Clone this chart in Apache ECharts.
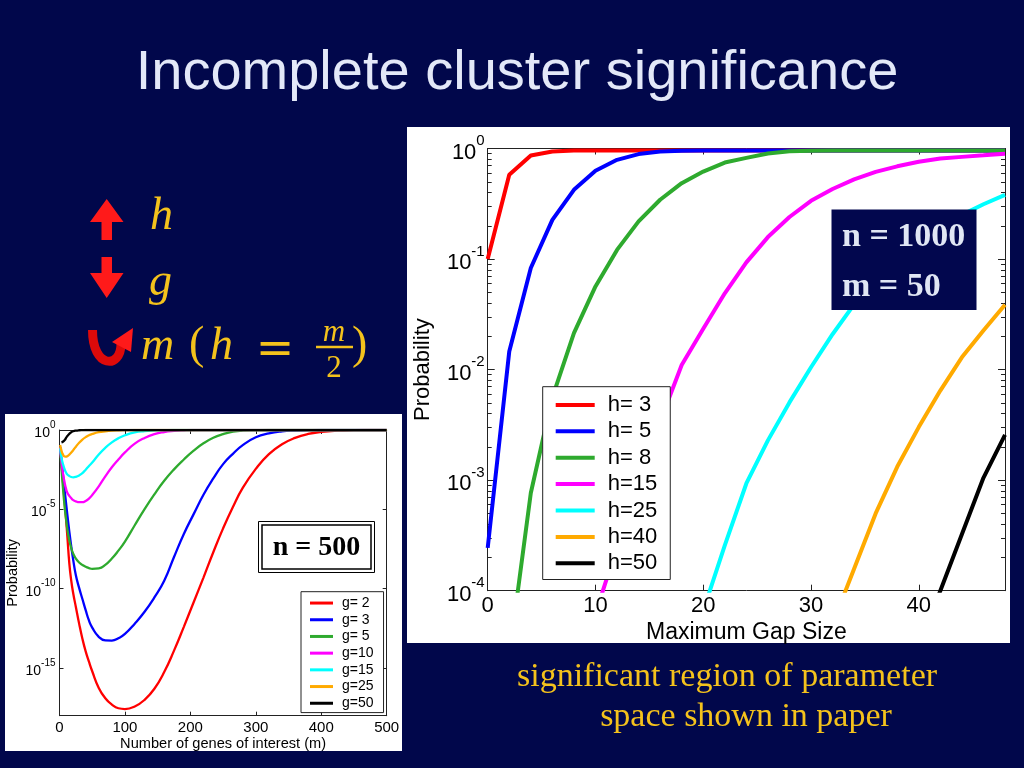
<!DOCTYPE html>
<html><head><meta charset="utf-8">
<script src="https://cdn.jsdelivr.net/npm/echarts@6/dist/echarts.min.js"></script>
<style>html,body{margin:0;padding:0;background:#01074b;}#c{width:1024px;height:768px;}</style>
</head><body><div id="c"></div>
<script>
// ---------- Small chart (n = 500): probability vs number of genes of interest m ----------
// values are log10(probability)
const genesM = [1,3,5,8,10,12,15,18,21,25,30,35,40,45,50,60,70,80,90,100,115,130,145,160,175,190,205,220,235,250,265,280,300,320,340,360,380,400,425,450,475,500];
const g2Log  = [-1.1,-2.1,-3.1,-4.6,-5.6,-6.7,-8.4,-9.5,-10.3,-11.15,-12.2,-13.15,-13.95,-14.6,-15.2,-16.25,-16.9,-17.3,-17.53,-17.58,-17.42,-17.0,-16.3,-15.25,-13.9,-12.4,-10.85,-9.3,-7.7,-6.2,-4.85,-3.65,-2.45,-1.52,-0.9,-0.5,-0.25,-0.12,-0.04,-0.01,0,0];
const g3Log  = [-1.1,-1.9,-2.7,-3.85,-4.6,-5.35,-6.4,-7.35,-8.2,-9.15,-9.95,-10.65,-11.35,-12.0,-12.45,-13.03,-13.26,-13.27,-13.12,-12.85,-12.2,-11.45,-10.55,-9.5,-8.0,-6.55,-5.3,-4.08,-3.05,-2.15,-1.5,-0.95,-0.46,-0.21,-0.08,-0.03,-0.01,0,0,0,0,0];
const g5Log  = [-1.1,-2.4,-3.5,-4.9,-5.6,-6.25,-6.95,-7.45,-7.8,-8.1,-8.35,-8.5,-8.62,-8.7,-8.75,-8.72,-8.5,-8.1,-7.6,-7.03,-6.0,-4.98,-4.05,-3.2,-2.48,-1.86,-1.3,-0.84,-0.49,-0.26,-0.1,-0.03,-0.01,0,0,0,0,0,0,0,0,0];
const g10Log = [-1.1,-2.0,-2.65,-3.35,-3.7,-3.95,-4.15,-4.3,-4.42,-4.5,-4.55,-4.55,-4.47,-4.32,-4.1,-3.55,-2.92,-2.35,-1.86,-1.41,-0.86,-0.5,-0.26,-0.13,-0.06,-0.02,0,0,0,0,0,0,0,0,0,0,0,0,0,0,0,0];
const g15Log = [-1.15,-1.75,-2.1,-2.5,-2.68,-2.8,-2.9,-2.96,-2.98,-2.95,-2.86,-2.72,-2.5,-2.27,-2.05,-1.54,-1.12,-0.78,-0.52,-0.33,-0.15,-0.07,-0.03,-0.01,0,0,0,0,0,0,0,0,0,0,0,0,0,0,0,0,0,0];
const g25Log = [-0.95,-1.3,-1.52,-1.67,-1.68,-1.65,-1.55,-1.42,-1.27,-1.05,-0.8,-0.6,-0.45,-0.33,-0.25,-0.14,-0.08,-0.04,-0.02,-0.01,0,0,0,0,0,0,0,0,0,0,0,0,0,0,0,0,0,0,0,0,0,0];
const g50Log = [null,-0.78,-0.74,-0.63,-0.5,-0.38,-0.24,-0.14,-0.08,-0.04,-0.015,-0.005,0,0,0,0,0,0,0,0,0,0,0,0,0,0,0,0,0,0,0,0,0,0,0,0,0,0,0,0,0,0];
const smallNames = ['g= 2','g= 3','g= 5','g=10','g=15','g=25','g=50'];
const smallXTicks = [0,100,200,300,400,500];

// ---------- Big chart (n = 1000, m = 50): probability vs maximum gap size ----------
const gapSize = [0,2,4,6,8,10,12,14,16,18,20,22,24,26,28,30,32,34,36,38,40,42,44,46,48];
const h3Prob  = [0.100,0.578,0.865,0.940,0.957,0.960,0.960,0.960,0.960,0.960,0.960,0.960,0.960,0.960,0.960,0.960,0.960,0.960,0.960,0.960,0.960,0.960,0.960,0.960,0.960];
const h5Prob  = [2.44e-4,0.0146,0.083,0.226,0.423,0.630,0.790,0.890,0.940,0.955,0.960,0.960,0.960,0.960,0.960,0.960,0.960,0.960,0.960,0.960,0.960,0.960,0.960,0.960,0.960];
const h8Prob  = [null,2.57e-5,7.66e-4,5.62e-3,0.0214,0.0565,0.121,0.219,0.344,0.486,0.619,0.746,0.822,0.902,0.944,0.955,0.958,0.960,0.960,0.960,0.960,0.960,0.960,0.960,0.960];
const h15Prob = [null,null,null,null,null,6.2e-5,2.49e-4,9.55e-4,3.39e-3,0.011,0.0234,0.049,0.0933,0.158,0.24,0.336,0.43,0.526,0.615,0.69,0.759,0.811,0.84,0.867,0.895];
const h25Prob = [null,null,null,null,null,null,null,null,null,null,6.6e-5,2.57e-4,9.33e-4,2.29e-3,5.05e-3,0.0105,0.0209,0.0389,0.063,0.0955,0.138,0.195,0.251,0.313,0.38];
const h40Prob = [null,null,null,null,null,null,null,null,null,null,null,null,null,null,null,null,5.0e-5,1.58e-4,5.0e-4,1.32e-3,3.02e-3,6.46e-3,0.0129,0.0226,0.0386];
const h50Prob = [null,null,null,null,null,null,null,null,null,null,null,null,null,null,null,null,null,null,null,null,3.2e-5,1.0e-4,3.24e-4,1.05e-3,2.57e-3];
const bigNames = ['h= 3','h= 5','h= 8','h=15','h=25','h=40','h=50'];
const bigXTicks = [0,10,20,30,40];

const COLORS = ['#ff0000','#0000ff','#2eaa2e','#ff00ff','#00ffff','#ffaa00','#000000'];
const SANS = '"Liberation Sans", Arial, sans-serif';
const SERIF = '"Liberation Serif", "Times New Roman", serif';

function smallSeries(name, logs, color) {
  const data = [];
  genesM.forEach((m, i) => { if (logs[i] !== null) data.push([m, -logs[i]]); });
  return { type: 'line', name, xAxisIndex: 0, yAxisIndex: 0, data, symbol: 'none', showSymbol: false,
    smooth: 0.5, clip: true,
    lineStyle: { width: 2.3, color }, itemStyle: { color }, emphasis: { disabled: true } };
}
function bigSeries(name, probs, color) {
  const data = [];
  gapSize.forEach((x, i) => { if (probs[i] !== null) data.push([x, probs[i]]); });
  return { type: 'line', name, xAxisIndex: 2, yAxisIndex: 2, data, symbol: 'none', showSymbol: false,
    clip: true, lineStyle: { width: 4, color }, itemStyle: { color }, emphasis: { disabled: true } };
}

const smallLogs = [g2Log, g3Log, g5Log, g10Log, g15Log, g25Log, g50Log];
const bigProbs = [h3Prob, h5Prob, h8Prob, h15Prob, h25Prob, h40Prob, h50Prob];
const series = [];
smallLogs.forEach((a, i) => series.push(smallSeries(smallNames[i], a, COLORS[i])));
bigProbs.forEach((a, i) => series.push(bigSeries(bigNames[i], a, COLORS[i])));

const axisLineStyle = { show: true, onZero: false, lineStyle: { color: '#222', width: 1 } };

const smallY = (pos, showLabel) => ({
  type: 'value', gridIndex: 0, position: pos, inverse: true, min: 0, max: 18, interval: 5,
  axisLine: axisLineStyle, splitLine: { show: false },
  axisTick: { inside: true, length: 4, lineStyle: { color: '#222' } },
  axisLabel: { show: showLabel, margin: 4,
    formatter: v => (v % 5 !== 0 ? '' : '{b|10}{e|' + (v === 0 ? '0' : '-' + v) + '}'),
    rich: { b: { fontSize: 14, lineHeight: 20, verticalAlign: 'bottom', fontFamily: SANS, color: '#000' },
            e: { fontSize: 10, verticalAlign: 'top', fontFamily: SANS, color: '#000' } } },
  name: showLabel ? 'Probability' : '', nameLocation: 'middle', nameGap: 39,
  nameTextStyle: { fontSize: 14.5, fontFamily: SANS, color: '#000' }
});
const smallX = (pos, showLabel) => ({
  type: 'value', gridIndex: 0, position: pos, min: 0, max: 500, interval: 100,
  axisLine: axisLineStyle, splitLine: { show: false },
  axisTick: { inside: true, length: 4, lineStyle: { color: '#222' } },
  axisLabel: { show: showLabel, margin: 5, fontSize: 15, fontFamily: SANS, color: '#000',
    formatter: v => (smallXTicks.indexOf(v) >= 0 ? String(v) : '') },
  name: showLabel ? 'Number of genes of interest (m)' : '', nameLocation: 'middle', nameGap: 17,
  nameTextStyle: { fontSize: 14.6, fontFamily: SANS, color: '#000' }
});
const bigY = (pos, showLabel) => ({
  type: 'log', logBase: 10, gridIndex: 1, position: pos, min: 1e-4, max: 1,
  axisLine: axisLineStyle, splitLine: { show: false },
  axisTick: { inside: true, length: 7, lineStyle: { color: '#222' } },
  minorTick: { show: true, splitNumber: 9, length: 4, lineStyle: { color: '#222' } },
  axisLabel: { show: showLabel, margin: 3,
    formatter: v => '{b|10}{e|' + Math.round(Math.log10(v)) + '}',
    rich: { b: { fontSize: 22, lineHeight: 30, verticalAlign: 'bottom', fontFamily: SANS, color: '#000' },
            e: { fontSize: 15, verticalAlign: 'top', fontFamily: SANS, color: '#000' } } },
  name: showLabel ? 'Probability' : '', nameLocation: 'middle', nameGap: 54,
  nameTextStyle: { fontSize: 22, fontFamily: SANS, color: '#000' }
});
const bigX = (pos, showLabel) => ({
  type: 'value', gridIndex: 1, position: pos, min: 0, max: 48, interval: 10,
  axisLine: axisLineStyle, splitLine: { show: false },
  axisTick: { inside: true, length: 6, lineStyle: { color: '#222' } },
  axisLabel: { show: showLabel, margin: 4, fontSize: 22, fontFamily: SANS, color: '#000',
    formatter: v => (bigXTicks.indexOf(v) >= 0 ? String(v) : '') },
  name: showLabel ? 'Maximum Gap Size' : '', nameLocation: 'middle', nameGap: 27,
  nameTextStyle: { fontSize: 23, fontFamily: SANS, color: '#000' }
});

const YEL = '#f4c21c';
const graphic = [
  // white panels
  { type: 'rect', z: -10, silent: true, shape: { x: 5, y: 414, width: 397, height: 337 }, style: { fill: '#ffffff' } },
  { type: 'rect', z: -10, silent: true, shape: { x: 407, y: 127, width: 603, height: 516 }, style: { fill: '#ffffff' } },
  // title
  { type: 'text', z: 50, silent: true, style: { text: 'Incomplete cluster significance', x: 517, y: 74,
      font: '56px ' + SANS, fill: '#e3e8f8', align: 'center', verticalAlign: 'middle' } },
  // arrows
  { type: 'polygon', z: 50, silent: true, shape: { points: [[106.7,199],[90,222],[101.5,222],[101.5,240],[112,240],[112,222],[123.5,222]] }, style: { fill: '#ff1a1a' } },
  { type: 'polygon', z: 50, silent: true, shape: { points: [[101.5,257],[112,257],[112,273],[123.5,273],[106.7,298],[90,273],[101.5,273]] }, style: { fill: '#ff1a1a' } },
  { type: 'bezierCurve', z: 50, silent: true, shape: { x1: 92.5, y1: 330, cpx1: 92.5, cpy1: 369, cpx2: 121, cpy2: 369, x2: 121, y2: 344 }, style: { stroke: '#dd0a0a', lineWidth: 9, fill: null } },
  { type: 'polygon', z: 50, silent: true, shape: { points: [[112,342],[133,328],[131,352]] }, style: { fill: '#ff1a1a' } },
  // math text
  { type: 'text', z: 50, silent: true, style: { text: 'h', x: 150, y: 217, font: 'italic 46px ' + SERIF, fill: YEL, align: 'left', verticalAlign: 'middle' } },
  { type: 'text', z: 50, silent: true, style: { text: 'g', x: 149, y: 283, font: 'italic 46px ' + SERIF, fill: YEL, align: 'left', verticalAlign: 'middle' } },
  { type: 'text', z: 50, silent: true, style: { text: 'm', x: 141, y: 347, font: 'italic 46px ' + SERIF, fill: YEL, align: 'left', verticalAlign: 'middle' } },
  { type: 'text', z: 50, silent: true, style: { text: '(', x: 189, y: 346, font: '46px ' + SERIF, fill: YEL, align: 'left', verticalAlign: 'middle' } },
  { type: 'text', z: 50, silent: true, style: { text: 'h', x: 210, y: 347, font: 'italic 46px ' + SERIF, fill: YEL, align: 'left', verticalAlign: 'middle' } },
  { type: 'text', z: 50, silent: true, style: { text: '=', x: 275, y: 351, font: '46px "DejaVu Serif", serif', fill: YEL, align: 'center', verticalAlign: 'middle' } },
  { type: 'text', z: 50, silent: true, style: { text: 'm', x: 334, y: 333, font: 'italic 31px ' + SERIF, fill: YEL, align: 'center', verticalAlign: 'middle' } },
  { type: 'line', z: 50, silent: true, shape: { x1: 316, y1: 347, x2: 353, y2: 347 }, style: { stroke: YEL, lineWidth: 2.5 } },
  { type: 'text', z: 50, silent: true, style: { text: '2', x: 334, y: 369, font: '31px ' + SERIF, fill: YEL, align: 'center', verticalAlign: 'middle' } },
  { type: 'text', z: 50, silent: true, style: { text: ')', x: 352, y: 346, font: '46px ' + SERIF, fill: YEL, align: 'left', verticalAlign: 'middle' } },
  // n = 500 box
  { type: 'rect', z: 100, silent: true, shape: { x: 258.5, y: 521.5, width: 116, height: 51 }, style: { fill: '#ffffff', stroke: '#000', lineWidth: 1 } },
  { type: 'rect', z: 100, silent: true, shape: { x: 262, y: 525, width: 109, height: 44 }, style: { fill: null, stroke: '#000', lineWidth: 1.5 } },
  { type: 'text', z: 101, silent: true, style: { text: 'n = 500', x: 316.5, y: 547.5, font: 'bold 28px ' + SERIF, fill: '#000', align: 'center', verticalAlign: 'middle' } },
  // n = 1000 / m = 50 box
  { type: 'rect', z: 100, silent: true, shape: { x: 831.5, y: 209.5, width: 145, height: 100.5 }, style: { fill: '#02074e' } },
  { type: 'text', z: 101, silent: true, style: { text: 'n = 1000', x: 842, y: 237, font: 'bold 34px ' + SERIF, fill: '#e0e6f4', align: 'left', verticalAlign: 'middle' } },
  { type: 'text', z: 101, silent: true, style: { text: 'm = 50', x: 842, y: 287, font: 'bold 34px ' + SERIF, fill: '#e0e6f4', align: 'left', verticalAlign: 'middle' } },
  // caption
  { type: 'text', z: 50, silent: true, style: { text: 'significant region of parameter', x: 727, y: 677, font: '34px ' + SERIF, fill: YEL, align: 'center', verticalAlign: 'middle' } },
  { type: 'text', z: 50, silent: true, style: { text: 'space shown in paper', x: 746, y: 717, font: '34px ' + SERIF, fill: YEL, align: 'center', verticalAlign: 'middle' } }
];

const option = {
  backgroundColor: '#01074b',
  animation: false,
  grid: [
    { left: 59.5, top: 430, width: 327.2, height: 285.7, containLabel: false },
    { left: 487.7, top: 148.5, width: 517.3, height: 442.2, containLabel: false }
  ],
  xAxis: [ smallX('bottom', true), smallX('top', false), bigX('bottom', true), bigX('top', false) ],
  yAxis: [ smallY('left', true), smallY('right', false), bigY('left', true), bigY('right', false) ],
  legend: [
    { data: smallNames, orient: 'vertical', left: 301, top: 591.7, itemWidth: 23, itemHeight: 3, itemGap: 0,
      icon: 'rect', padding: [3, 10, 1, 9], backgroundColor: '#ffffff', borderColor: '#222', borderWidth: 1,
      selectedMode: false, textStyle: { fontSize: 14, lineHeight: 16.7, fontFamily: SANS, color: '#000', padding: [0, 0, 0, 4] } },
    { data: bigNames, orient: 'vertical', left: 542.7, top: 386.7, itemWidth: 39, itemHeight: 4, itemGap: 0,
      icon: 'rect', padding: [5, 13, 3, 13], backgroundColor: '#ffffff', borderColor: '#222', borderWidth: 1,
      selectedMode: false, textStyle: { fontSize: 22, lineHeight: 26.4, fontFamily: SANS, color: '#000', padding: [0, 0, 0, 8] } }
  ],
  graphic: graphic,
  series: series
};

const chart = echarts.init(document.getElementById('c'), null, { renderer: 'canvas' });
chart.setOption(option);
</script>
</body></html>
